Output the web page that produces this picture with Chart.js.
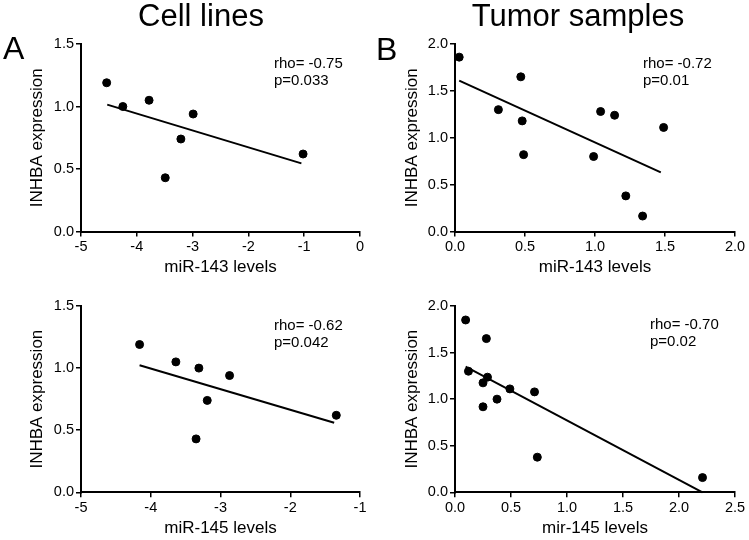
<!DOCTYPE html>
<html>
<head>
<meta charset="utf-8">
<script src="https://cdn.jsdelivr.net/npm/chart.js@4.4.0/dist/chart.umd.min.js"></script>
<style>
  html, body { margin: 0; padding: 0; background: #fff; }
  body { width: 749px; height: 540px; position: relative; overflow: hidden;
         font-family: "Liberation Sans", Arial, sans-serif; color: #000; }
  canvas { position: absolute; }
  .txt { position: absolute; white-space: nowrap; color: #000; }
  .title { font-size: 31px; line-height: 31px; text-align: center; width: 300px; }
  .letter { font-size: 32px; line-height: 32px; }
  .stat { font-size: 15px; line-height: 17px; }
</style>
</head>
<body>
<canvas id="cA1" width="375" height="285" style="left:0;top:0"></canvas>
<canvas id="cB1" width="374" height="285" style="left:375px;top:0"></canvas>
<canvas id="cA2" width="375" height="270" style="left:0;top:270px"></canvas>
<canvas id="cB2" width="374" height="270" style="left:375px;top:270px"></canvas>

<div class="txt title" style="left:51px;top:0px">Cell lines</div>
<div class="txt title" style="left:428px;top:0px">Tumor samples</div>
<div class="txt letter" style="left:3px;top:32px">A</div>
<div class="txt letter" style="left:376px;top:33px">B</div>
<div class="txt stat" style="left:274px;top:53.5px">rho= -0.75<br>p=0.033</div>
<div class="txt stat" style="left:643px;top:53.5px">rho= -0.72<br>p=0.01</div>
<div class="txt stat" style="left:274px;top:316px">rho= -0.62<br>p=0.042</div>
<div class="txt stat" style="left:650px;top:315px">rho= -0.70<br>p=0.02</div>

<script>
// ---- Data ----
// Cell lines: INHBA expression vs miR-143 / miR-145 levels (same 7 cell lines)
const cellINHBA   = [1.19, 1.00, 1.05, 0.43, 0.74, 0.94, 0.62];
const cellMiR143  = [-4.54, -4.25, -3.78, -3.49, -3.21, -2.99, -1.02];
const cellMiR145  = [-4.16, -3.31, -3.64, -3.35, -3.19, -2.87, -1.34];
const cellFit143X = [-4.53, -1.05];
const cellFit143Y = [1.015, 0.545];
const cellFit145X = [-4.16, -1.37];
const cellFit145Y = [1.023, 0.560];

// Tumor samples
const tumMiR143   = [0.03, 0.31, 0.47, 0.48, 0.49, 0.99, 1.04, 1.14, 1.22, 1.34, 1.49];
const tumINHBA143 = [1.86, 1.30, 1.65, 1.18, 0.82, 0.80, 1.28, 1.24, 0.38, 0.165, 1.11];
const tumFit143X  = [0.03, 1.47];
const tumFit143Y  = [1.61, 0.63];

const tumMiR145   = [0.095, 0.12, 0.28, 0.25, 0.29, 0.25, 0.375, 0.49, 0.71, 0.735, 2.21];
const tumINHBA145 = [1.85, 1.30, 1.65, 1.175, 1.236, 0.918, 1.00, 1.11, 1.078, 0.377, 0.158];
const tumFit145X  = [0.095, 2.21];
const tumFit145Y  = [1.35, 0.0];

// Axis settings
const cellXTicks143 = { min: -5, max: 0, step: 1 };
const cellXTicks145 = { min: -5, max: -1, step: 1 };
const tumXTicks143  = { min: 0, max: 2.0, step: 0.5 };
const tumXTicks145  = { min: 0, max: 2.5, step: 0.5 };
const cellYTicks = { min: 0, max: 1.5, step: 0.5 };
const tumYTicks  = { min: 0, max: 2.0, step: 0.5 };

const xTitles = ['miR-143 levels', 'miR-145 levels', 'miR-143 levels', 'mir-145 levels'];
const yTitle = 'INHBA expression';

// ---- Drawing ----
const FONT = '"Liberation Sans", Arial, sans-serif';
Chart.defaults.font.family = FONT;
Chart.defaults.color = '#000';

function pairs(xs, ys) { return xs.map((x, i) => ({ x: x, y: ys[i] })); }

function makeChart(id, xs, ys, fx, fy, xt, yt, xTitle, xDec, geom) {
  const ctx = document.getElementById(id);
  return new Chart(ctx, {
    type: 'scatter',
    data: {
      datasets: [
        { data: pairs(xs, ys), backgroundColor: '#000', borderColor: '#000',
          pointRadius: 4, pointHoverRadius: 4, clip: false },
        { data: pairs(fx, fy), showLine: true, borderColor: '#000', borderWidth: 2,
          pointRadius: 0, fill: false, clip: false }
      ]
    },
    options: {
      responsive: false,
      animation: false,
      devicePixelRatio: 1,
      layout: { padding: { left: 0, top: geom.padTop, right: geom.padRight, bottom: 0 } },
      plugins: { legend: { display: false }, tooltip: { enabled: false } },
      scales: {
        x: {
          type: 'linear', min: xt.min, max: xt.max,
          afterFit: s => { s.height = geom.xAxisH; },
          ticks: { stepSize: xt.step, padding: 2, color: '#000',
                   font: { size: 14.5, family: FONT },
                   maxRotation: 0, autoSkip: false,
                   callback: v => xDec ? Number(v).toFixed(1) : String(Math.round(v)) },
          grid: { drawOnChartArea: false, drawTicks: true, tickLength: 5,
                  color: '#000', lineWidth: 1.5 },
          border: { display: true, color: '#000', width: 2 },
          title: { display: true, text: xTitle, color: '#000',
                   font: { size: 17, family: FONT },
                   padding: { top: 0, bottom: geom.titlePadBottom } }
        },
        y: {
          type: 'linear', min: yt.min, max: yt.max,
          afterFit: s => { s.width = geom.yAxisW; },
          ticks: { stepSize: yt.step, padding: 2, color: '#000',
                   font: { size: 14.5, family: FONT },
                   callback: v => Number(v).toFixed(1) },
          grid: { drawOnChartArea: false, drawTicks: true, tickLength: 5,
                  color: '#000', lineWidth: 1.5 },
          border: { display: true, color: '#000', width: 2 },
          title: { display: true, text: yTitle, color: '#000',
                   font: { size: 17, family: FONT },
                   padding: { top: 27.5, bottom: 0 } }
        }
      }
    }
  });
}

const gTopL = { padTop: 44, padRight: 15, xAxisH: 53.5, yAxisW: 81, titlePadBottom: 7.1 };
const gTopR = { padTop: 44, padRight: 14, xAxisH: 53.5, yAxisW: 80, titlePadBottom: 7.1 };
const gBotL = { padTop: 36, padRight: 15, xAxisH: 47.7, yAxisW: 81, titlePadBottom: 1.3 };
const gBotR = { padTop: 36, padRight: 14, xAxisH: 47.7, yAxisW: 80, titlePadBottom: 1.3 };

makeChart('cA1', cellMiR143, cellINHBA, cellFit143X, cellFit143Y, cellXTicks143, cellYTicks, xTitles[0], false, gTopL);
makeChart('cA2', cellMiR145, cellINHBA, cellFit145X, cellFit145Y, cellXTicks145, cellYTicks, xTitles[1], false, gBotL);
makeChart('cB1', tumMiR143, tumINHBA143, tumFit143X, tumFit143Y, tumXTicks143, tumYTicks, xTitles[2], true, gTopR);
makeChart('cB2', tumMiR145, tumINHBA145, tumFit145X, tumFit145Y, tumXTicks145, tumYTicks, xTitles[3], true, gBotR);
</script>
</body>
</html>
